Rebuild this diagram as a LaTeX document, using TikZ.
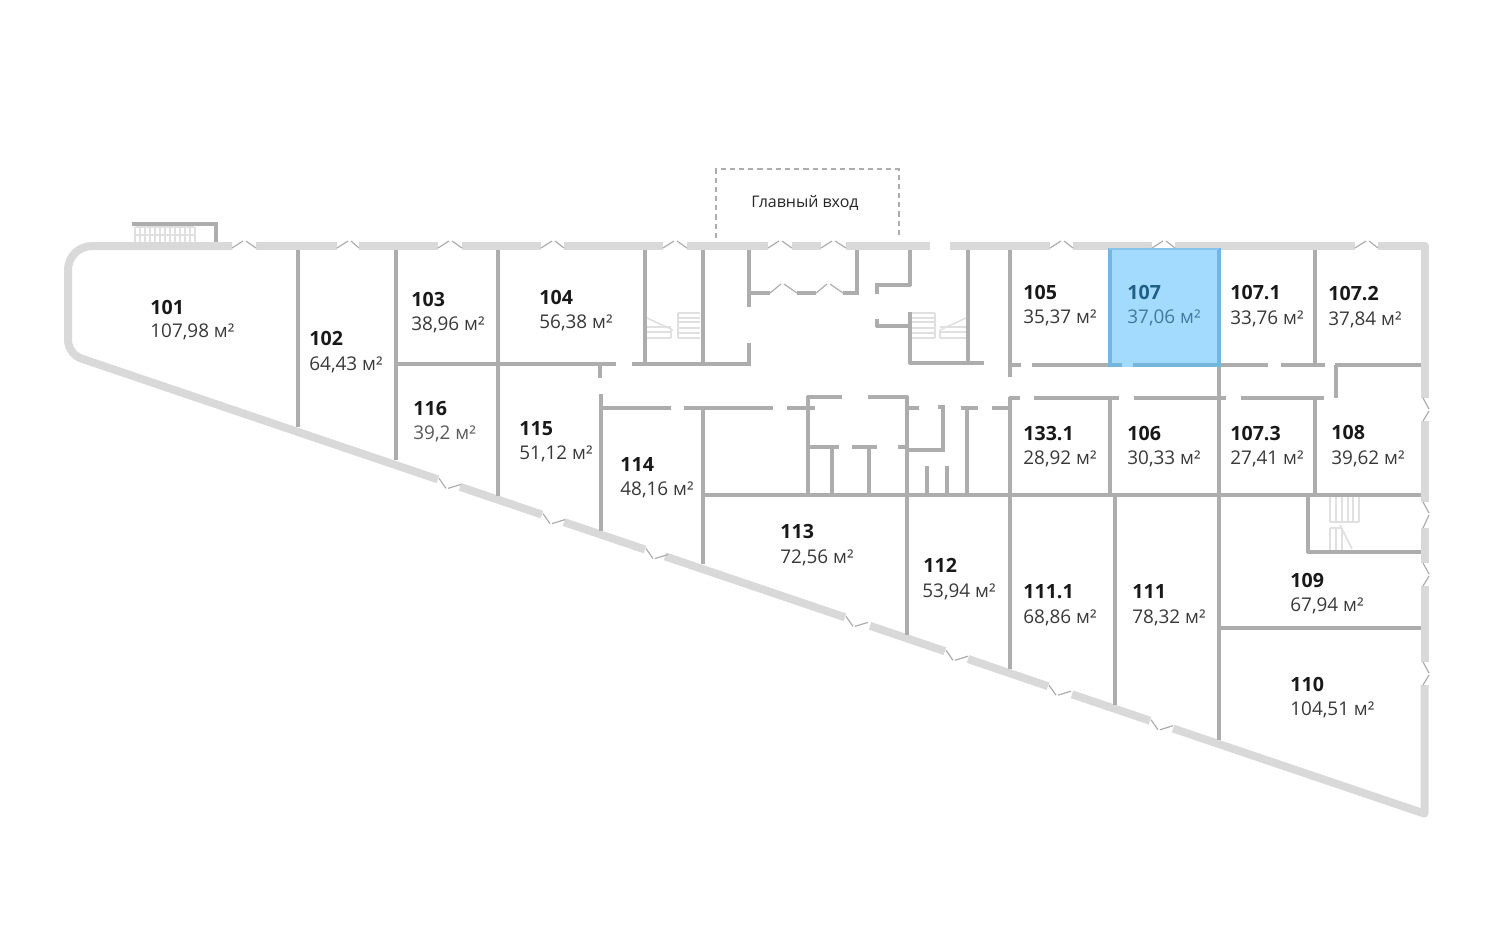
\documentclass[tikz,border=0pt]{standalone}
\usepackage{fontspec}
\setmainfont{Open Sans}
\usepackage{xcolor}
\definecolor{outergray}{HTML}{D9D9D9}
\definecolor{innergray}{HTML}{ADADAD}
\definecolor{stairgray}{HTML}{E0E0E0}
\definecolor{roomblue}{HTML}{A3DBFF}
\definecolor{edgeblue}{HTML}{76B6DD}
\definecolor{deepblue}{HTML}{1F5F85}
\definecolor{midblue}{HTML}{3F7B9F}
\tikzset{
	outerwall/.style={draw=outergray, line width=4pt},
	innerwall/.style={draw=innergray, line width=2pt},
	leaf/.style={draw=innergray, line width=0.6pt},
	stairline/.style={draw=stairgray, line width=0.8pt},
	roomnum/.style={anchor=base west, inner sep=0pt, xshift=-0.5pt, font=\fontsize{9.8}{11}\selectfont\bfseries, text=black!90},
	roomarea/.style={anchor=base west, inner sep=0pt, xshift=-0.5pt, font=\fontsize{9.45}{11}\selectfont, text=black!78}
}
\begin{document}
\begin{tikzpicture}[x=0.5pt,y=-0.5pt]
	\useasboundingbox (0,0) rectangle (1500,950);

	\draw[outerwall, line join=round] (232,246) [rounded corners=12pt] -- (68,246) [rounded corners=7pt] -- (68,354) [sharp corners] -- (438,479.4);
	\draw[outerwall] (256,246) -- (337,246);
	\draw[outerwall] (359,246) -- (438,246);
	\draw[outerwall] (462,246) -- (541,246);
	\draw[outerwall] (564,246) -- (663,246);
	\draw[outerwall] (687,246) -- (768,246);
	\draw[outerwall] (792,246) -- (821,246);
	\draw[outerwall] (846,246) -- (930,246);
	\draw[outerwall] (950,246) -- (1050,246);
	\draw[outerwall] (1073,246) -- (1152,246);
	\draw[outerwall] (1175,246) -- (1355,246);
	\draw[outerwall, line join=round] (1378,246) -- (1424.5,246) -- (1424.5,398);
	\draw[outerwall] (1424.5,421) -- (1424.5,502);
	\draw[outerwall] (1424.5,528) -- (1424.5,563);
	\draw[outerwall] (1424.5,586) -- (1424.5,662);
	\draw[outerwall, line join=round] (1424.5,685) -- (1424.5,813.6) -- (1173,728.5);
	\draw[outerwall] (460,486.8) -- (542,514.6);
	\draw[outerwall] (564,522.1) -- (645,549.5);
	\draw[outerwall] (665,556.3) -- (845,617.3);
	\draw[outerwall] (870,625.8) -- (945,651.2);
	\draw[outerwall] (968,659) -- (1048,686.2);
	\draw[outerwall] (1072,694.3) -- (1150,720.7);

	\foreach \a/\b in {232/256,337/359,438/462,541/564,663/687,768/792,821/846,1050/1073,1152/1175,1355/1378} {
		\draw[leaf] (\a,248) -- ({\a+11},241);
		\draw[leaf] ({\a+14},241) -- (\b,248);
	}
	\foreach \a/\b in {398/421,502/528,563/586,662/685} {
		\draw[leaf] (1423,\a) -- (1429,{\a+11});
		\draw[leaf] (1429,{\a+13}) -- (1423,\b);
	}
	\foreach \a in {438,542,645,845,945,1048,1150} {
		\pgfmathsetmacro{\b}{358+0.339*(\a-80)}
		\draw[leaf] ({\a+1},{\b-1}) -- ({\a+8},{\b+9});
		\draw[leaf] ({\a+10},{\b+9}) -- ({\a+23},{\b+5});
	}

	\draw[innerwall] (298,250) -- (298,427);
	\draw[innerwall] (396,250) -- (396,460);
	\draw[innerwall] (497.5,250) -- (497.5,496);
	\draw[innerwall] (396,364) -- (616,364);
	\draw[innerwall] (600,364) -- (600,378);
	\draw[innerwall] (632,364) -- (751,364);
	\draw[innerwall] (645,250) -- (645,364);
	\draw[innerwall] (703,250) -- (703,364);
	\draw[innerwall] (749,250) -- (749,307);
	\draw[innerwall] (749,343) -- (749,365);

	\draw[innerwall] (749,293) -- (770,293);
	\draw[innerwall] (797,293) -- (816,293);
	\draw[innerwall] (843,293) -- (859,293);
	\draw[innerwall] (857,250) -- (857,293);
	\draw[leaf] (770,293) -- (781,284);
	\draw[leaf] (784,284) -- (797,293);
	\draw[leaf] (816,293) -- (827,284);
	\draw[leaf] (830,284) -- (843,293);

	\draw[innerwall] (910,250) -- (910,286);
	\draw[innerwall] (875,285) -- (911,285);
	\draw[innerwall] (877,285) -- (877,294);
	\draw[innerwall] (877,319) -- (877,327);
	\draw[innerwall] (876,326) -- (910,326);
	\draw[innerwall] (910,312) -- (910,364);
	\draw[innerwall] (909,363) -- (984,363);
	\draw[innerwall] (968,250) -- (968,363);

	\draw[innerwall] (1010,250) -- (1010,377);
	\draw[innerwall] (1010,365) -- (1021,365);
	\draw[innerwall] (1032,365) -- (1108,365);
	\draw[innerwall] (1219,365) -- (1268,365);
	\draw[innerwall] (1281,365) -- (1325,365);
	\draw[innerwall] (1335,365) -- (1421,365);
	\draw[innerwall] (1315,250) -- (1315,365);
	\draw[innerwall] (1336,365) -- (1336,398);

	\draw[innerwall] (601,394) -- (601,531);
	\draw[innerwall] (601,408) -- (671,408);
	\draw[innerwall] (684,408) -- (773,408);
	\draw[innerwall] (787,408) -- (815,408);
	\draw[innerwall] (703,408) -- (703,564);
	\draw[innerwall] (703,495) -- (1421,495);

	\draw[innerwall] (808,396) -- (808,495);
	\draw[innerwall] (807,397) -- (842,397);
	\draw[innerwall] (868,397) -- (908,397);
	\draw[innerwall] (907,396) -- (907,635);
	\draw[innerwall] (810,447) -- (839,447);
	\draw[innerwall] (832,447) -- (832,495);
	\draw[innerwall] (852,447) -- (877,447);
	\draw[innerwall] (869,447) -- (869,495);
	\draw[innerwall] (898,447) -- (907,447);
	\draw[innerwall] (905,408) -- (919,408);
	\draw[innerwall] (907,450) -- (945,450);
	\draw[innerwall] (943,406) -- (943,451);
	\draw[innerwall] (938,407) -- (945,407);
	\draw[innerwall] (927,466) -- (927,495);
	\draw[innerwall] (947,466) -- (947,495);
	\draw[innerwall] (967,408) -- (967,495);
	\draw[innerwall] (961,408) -- (978,408);
	\draw[innerwall] (992,408) -- (1010,408);

	\draw[innerwall] (1010,397) -- (1010,669);
	\draw[innerwall] (1009,398) -- (1020,398);
	\draw[innerwall] (1034,398) -- (1119,398);
	\draw[innerwall] (1134,398) -- (1226,398);
	\draw[innerwall] (1241,398) -- (1324,398);
	\draw[innerwall] (1110,398) -- (1110,495);
	\draw[innerwall] (1219,365) -- (1219,740);
	\draw[innerwall] (1315,398) -- (1315,495);
	\draw[innerwall] (1115,495) -- (1115,705);

	\draw[innerwall] (1308,495) -- (1308,553);
	\draw[innerwall] (1307,552) -- (1421,552);
	\draw[innerwall] (1219,628) -- (1421,628);

	\fill[roomblue] (1108,248) rectangle (1220,367);
	\draw[edgeblue, line width=2pt] (1109.5,248) -- (1109.5,365) -- (1122,365);
	\draw[edgeblue, line width=2pt] (1133,365) -- (1218.5,365) -- (1218.5,248);
	\draw[edgeblue!60!roomblue, line width=1pt] (1109,249) -- (1219,249);

	\foreach \y in {313,318,322,328,333,338} {
		\draw[stairline] (678,\y) -- (700,\y);
		\draw[stairline] (912,\y) -- (935,\y);
	}
	\draw[stairline] (678,313) -- (678,338);
	\draw[stairline] (935,313) -- (935,338);
	\foreach \y in {327,332,338} {
		\draw[stairline] (647,\y) -- (671,\y);
		\draw[stairline] (940,\y) -- (966,\y);
	}
	\draw[stairline] (647,318) -- (673,330);
	\draw[stairline] (671,330) -- (671,338);
	\draw[stairline] (966,318) -- (940,330);
	\draw[stairline] (940,330) -- (940,338);

	\foreach \x in {1330,1336,1342,1348,1353,1359} {
		\draw[stairline] (\x,497) -- (\x,522);
	}
	\draw[stairline] (1330,522) -- (1359,522);
	\foreach \x in {1330,1336,1342} {
		\draw[stairline] (\x,528) -- (\x,550);
	}
	\draw[stairline] (1330,528) -- (1342,528);
	\draw[stairline] (1340,525) -- (1352,549);

	\draw[innerwall] (132,224) -- (218,224);
	\draw[innerwall] (216,224) -- (216,242);
	\foreach \x in {135,140,...,195} {
		\draw[stairline] (\x,227) -- (\x,242);
	}
	\draw[stairline] (135,227) -- (194,227);
	\draw[stairline] (135,235) -- (194,235);

	\draw[draw=innergray, line width=1pt, dash pattern=on 2.6pt off 2pt] (716,238) -- (716,169) -- (899,169) -- (899,238);
	\node[inner sep=0pt, font=\fontsize{8}{10}\selectfont, text=black!85] (entrance) at (805,203) {Главный вход};

	\node[roomnum] (n101) at (151,314) {101};
	\node[roomarea] (a101) at (151,337) {107,98 м²};
	\node[roomnum] (n102) at (310,345) {102};
	\node[roomarea] (a102) at (310,370) {64,43 м²};
	\node[roomnum] (n103) at (412,306.5) {103};
	\node[roomarea] (a103) at (412,330.5) {38,96 м²};
	\node[roomnum] (n104) at (540,304) {104};
	\node[roomarea] (a104) at (540,328) {56,38 м²};
	\node[roomnum] (n105) at (1024,299) {105};
	\node[roomarea] (a105) at (1024,323) {35,37 м²};
	\node[roomnum, text=deepblue] (n107) at (1128,299) {107};
	\node[roomarea, text=midblue] (a107) at (1128,323) {37,06 м²};
	\node[roomnum] (n1071) at (1231,299) {107.1};
	\node[roomarea] (a1071) at (1231,324.5) {33,76 м²};
	\node[roomnum] (n1072) at (1329,300.5) {107.2};
	\node[roomarea] (a1072) at (1329,325) {37,84 м²};
	\node[roomnum] (n1331) at (1024,440) {133.1};
	\node[roomarea] (a1331) at (1024,464) {28,92 м²};
	\node[roomnum] (n106) at (1128,440) {106};
	\node[roomarea] (a106) at (1128,464) {30,33 м²};
	\node[roomnum] (n1073) at (1231,440) {107.3};
	\node[roomarea] (a1073) at (1231,464) {27,41 м²};
	\node[roomnum] (n108) at (1332,439) {108};
	\node[roomarea] (a108) at (1332,464) {39,62 м²};
	\node[roomnum] (n116) at (414,415) {116};
	\node[roomarea, text=black!65] (a116) at (414,439) {39,2 м²};
	\node[roomnum] (n115) at (520,435) {115};
	\node[roomarea] (a115) at (520,459) {51,12 м²};
	\node[roomnum] (n114) at (621,471) {114};
	\node[roomarea] (a114) at (621,495) {48,16 м²};
	\node[roomnum] (n113) at (781,538) {113};
	\node[roomarea] (a113) at (781,563) {72,56 м²};
	\node[roomnum] (n112) at (924,572) {112};
	\node[roomarea] (a112) at (923,597) {53,94 м²};
	\node[roomnum] (n1111) at (1024,598) {111.1};
	\node[roomarea] (a1111) at (1024,623) {68,86 м²};
	\node[roomnum] (n111) at (1133,598) {111};
	\node[roomarea] (a111) at (1133,623) {78,32 м²};
	\node[roomnum] (n109) at (1291,587) {109};
	\node[roomarea] (a109) at (1291,611) {67,94 м²};
	\node[roomnum] (n110) at (1291,691) {110};
	\node[roomarea] (a110) at (1291,715) {104,51 м²};
\end{tikzpicture}
\end{document}
